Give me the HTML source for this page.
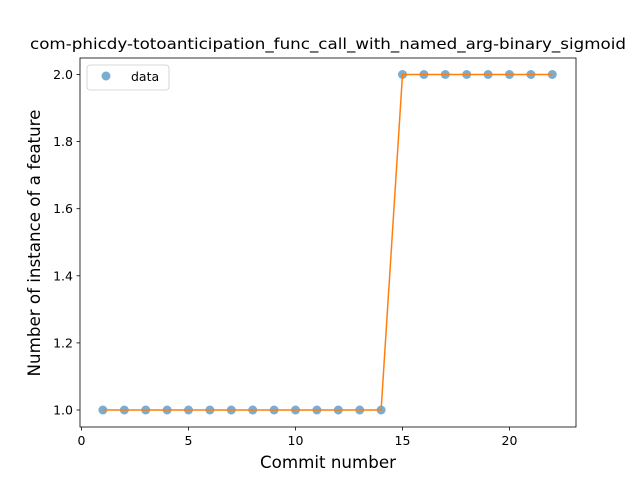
<!DOCTYPE html>
<html><head><meta charset="utf-8"><style>
body{margin:0;background:#fff;}
svg{display:block;font-family:"DejaVu Sans","Liberation Sans",sans-serif;}
</style></head><body>
<svg id="chart" width="640" height="480" viewBox="0 0 640 480">
<rect width="640" height="480" fill="#fff"/>
<text x="328" y="49" font-size="15" text-anchor="middle" textLength="596" lengthAdjust="spacingAndGlyphs">com-phicdy-totoanticipation_func_call_with_named_arg-binary_sigmoid</text>
<g id="xticks"></g>
<g id="yticks"></g>
<g id="pts"></g>
<g id="fit"></g>
<rect x="80" y="58" width="496" height="369" fill="none" stroke="#000" stroke-width="0.8"/>
<text x="328" y="468" font-size="16.7" text-anchor="middle">Commit number</text>
<text transform="translate(40,243) rotate(-90)" font-size="16.7" text-anchor="middle">Number of instance of a feature</text>
<g>
<rect x="87" y="65" width="82" height="25" rx="3" fill="#fff" stroke="#ccc" stroke-width="0.8"/>
<circle cx="106" cy="76" r="4.5" fill="#1f77b4" fill-opacity="0.6"/>
<text x="131" y="81" font-size="12.5">data</text>
</g>
</svg>
<script>
const commits=[1,2,3,4,5,6,7,8,9,10,11,12,13,14,15,16,17,18,19,20,21,22];
const values=[1,1,1,1,1,1,1,1,1,1,1,1,1,1,2,2,2,2,2,2,2,2];
const fitValues=[1,1,1,1,1,1,1,1,1,1,1,1,1,1,2,2,2,2,2,2,2,2];
const xTicks=[0,5,10,15,20];
const yTicks=[1.0,1.2,1.4,1.6,1.8,2.0];
const NS="http://www.w3.org/2000/svg";
const xs=v=>81.5+v*21.4;
const ys=v=>410-(v-1)*335.5;
function mk(t,a,p){const e=document.createElementNS(NS,t);for(const k in a)e.setAttribute(k,a[k]);p.appendChild(e);return e;}
const gx=document.getElementById('xticks');
xTicks.forEach(t=>{const x=xs(t);
const l=mk('line',{x1:x,x2:x,y1:427,y2:430.5,stroke:'#000','stroke-width':0.8},gx);


const tx=mk('text',{x:x,y:445,'font-size':12.5,'text-anchor':'middle'},gx);tx.textContent=t;

});
const gy=document.getElementById('yticks');
yTicks.forEach(t=>{const y=ys(t);
const l=mk('line',{x1:76.5,x2:80,y1:y,y2:y,stroke:'#000','stroke-width':0.8},gy);


const tx=mk('text',{x:73,y:y+4.5,'font-size':12.5,'text-anchor':'end'},gy);tx.textContent=t.toFixed(1);

});
const pts=document.getElementById('pts');
commits.forEach((c,i)=>{const e=mk('circle',{cx:xs(c),cy:ys(values[i]),r:4.5,fill:'#1f77b4','fill-opacity':0.6},pts);

});
const fit=document.getElementById('fit');
const pl=mk('polyline',{points:commits.map((c,i)=>xs(c)+','+ys(fitValues[i])).join(' '),fill:'none',stroke:'#ff7f0e','stroke-width':1.5},fit);


</script>
</body></html>
